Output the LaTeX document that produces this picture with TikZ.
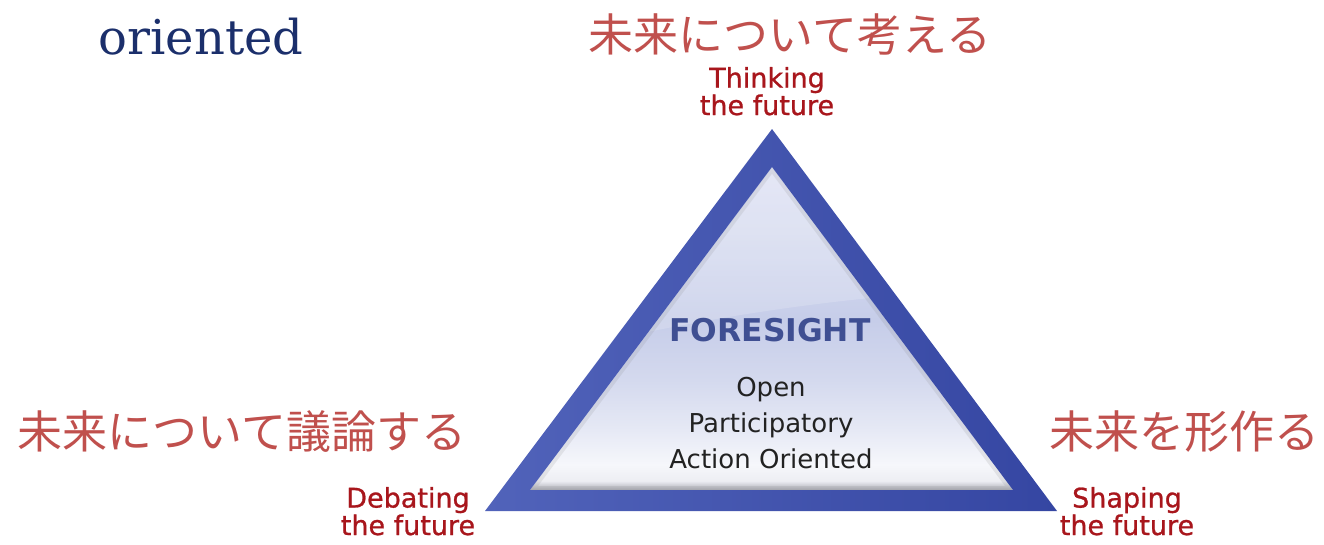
\documentclass[tikz,border=0pt]{standalone}
\usepackage{fontspec}
\newfontfamily\jpfont{Noto Sans CJK JP}
\newfontfamily\labelfont{DejaVu Sans}
\newfontfamily\labelfontheavy[FakeBold=0.9]{DejaVu Sans}
\newfontfamily\headserif{DejaVu Serif}
\definecolor{jpred}{HTML}{C0504D}
\definecolor{labelred}{HTML}{A8161C}
\definecolor{navytext}{HTML}{1B2F6B}
\definecolor{rimlight}{HTML}{5163BA}
\definecolor{rimdark}{HTML}{3546A2}
\definecolor{foresightblue}{HTML}{3F4F92}
\definecolor{bodytext}{HTML}{222222}
\definecolor{faceA}{HTML}{DFE2F4}
\definecolor{faceB}{HTML}{D7DCF0}
\definecolor{faceC}{HTML}{C6CDE9}
\definecolor{faceD}{HTML}{D4D9EE}
\definecolor{faceE}{HTML}{E6E9F5}
\definecolor{faceF}{HTML}{F6F7FB}
\definecolor{faceG}{HTML}{EDEEF3}
\definecolor{faceshadow}{HTML}{A9AAB2}
% vertical fill of the inner face (bottom stop first)
\pgfdeclareverticalshading{innerface}{100bp}{%
  color(0bp)=(faceshadow);
  color(25bp)=(faceshadow);
  color(26.4bp)=(faceG);
  color(28.9bp)=(faceF);
  color(34.3bp)=(faceE);
  color(42bp)=(faceD);
  color(51.3bp)=(faceC);
  color(65bp)=(faceB);
  color(75bp)=(faceA);
  color(100bp)=(faceA)}
\tikzset{
  jp/.style={font=\jpfont\fontsize{33.75}{40}\selectfont, text=jpred, inner sep=0pt},
  lbl/.style={font=\labelfontheavy\fontsize{20.25}{19.5}\selectfont, text=labelred, align=center, inner sep=0pt},
  body/.style={font=\labelfont\fontsize{19.5}{27}\selectfont, text=bodytext, align=center, inner sep=0pt},
  title/.style={font=\labelfont\bfseries\fontsize{23.5}{27}\selectfont, text=foresightblue, inner sep=0pt}
}
\begin{document}
\begin{tikzpicture}[x=0.75pt,y=-0.75pt]
\useasboundingbox (0,0) rectangle (1324,544);

% triangle corners: outer rim and inner face
\coordinate (oA) at (772,129);
\coordinate (oL) at (485,511);
\coordinate (oR) at (1057,511);
\coordinate (iA) at (772,167);
\coordinate (iL) at (530,490);
\coordinate (iR) at (1013,490);

% inner face
\shade[shading=innerface] (iA) -- (iL) -- (iR) -- cycle;
\begin{scope}
  \clip (iA) -- (iL) -- (iR) -- cycle;
  % lighter upper area above the gentle arc
  \fill[white, opacity=0.18] (480,100) -- (480,372)
    .. controls (680,318) and (850,292) .. (1060,286) -- (1060,100) -- cycle;
  % soft bevel shadow along the inner edges
  \draw[gray, opacity=0.15, line width=6pt] (iA) -- (iL) -- (iR) -- cycle;
\end{scope}

% blue rim
\shade[left color=rimlight, right color=rimdark, even odd rule]
  (oA) -- (oL) -- (oR) -- cycle (iA) -- (iL) -- (iR) -- cycle;

% texts inside the triangle
\node[title, anchor=base] (foresight) at (770,341) {FORESIGHT};
\node[body, anchor=base] (qualities) at (771,468) {Open\\Participatory\\Action Oriented};

% corner labels (base anchor sits on the last line)
\node[lbl, anchor=base] (thinking) at (767,115) {Thinking\\the future};
\node[lbl, anchor=base] (debating) at (408,535) {Debating\\the future};
\node[lbl, anchor=base] (shaping) at (1127,535) {Shaping\\the future};

% Japanese captions
\node[jp, anchor=base] (jpthink) at (790,51) {未来について考える};
\node[jp, anchor=base] (jpdebate) at (242,448) {未来について議論する};
\node[jp, anchor=base] (jpshape) at (1184,448) {未来を形作る};

% heading fragment
\node[anchor=base, inner sep=0pt, text=navytext, font=\headserif\fontsize{36}{44}\selectfont] (oriented) at (201,54) {oriented};
\end{tikzpicture}
\end{document}
